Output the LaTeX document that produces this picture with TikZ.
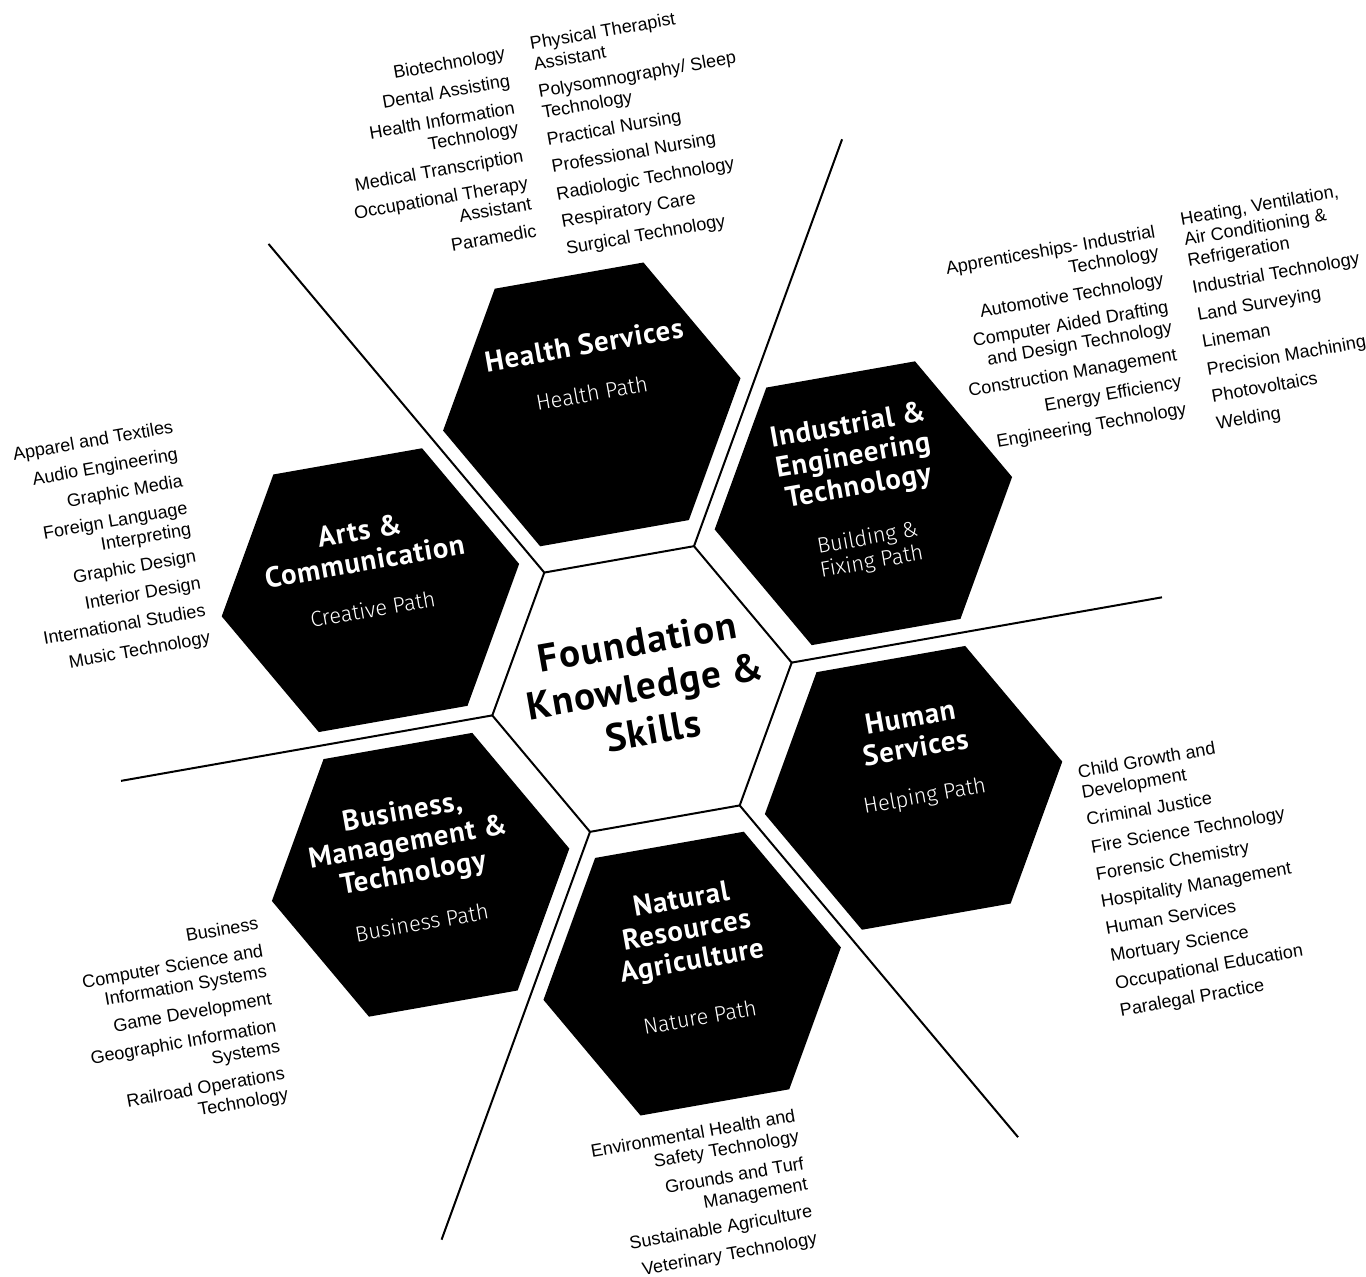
\documentclass[tikz,border=0pt]{standalone}
\usepackage{fontspec}
\setmainfont{Liberation Sans}
\newfontfamily\headfont{PT Sans}[LetterSpace=3]
\newfontfamily\trackfont{Fira Sans Light}
\usetikzlibrary{shapes.geometric,calc}
% extra space between two programmes of one list
\newcommand{\itemgap}{\\[3.3pt]}

\begin{document}
\begin{tikzpicture}[
			x=0.5pt,y=0.5pt,
			hexa/.style={
				regular polygon,
				regular polygon sides=6,
				minimum size=151pt,
				inner sep=0pt,
				outer sep=0pt,
				fill=black
			},
			core/.style={
				regular polygon,
				regular polygon sides=6,
				minimum size=152pt,
				inner sep=0pt,
				outer sep=0pt,
				draw=black,
				line width=1pt,
				fill=white
			},
			title/.style={
				text=white,
				align=center,
				font=\headfont\bfseries\fontsize{14.4}{15.5}\selectfont
			},
			track/.style={
				text=white,
				align=center,
				font=\trackfont\fontsize{10.9}{12}\selectfont
			},
			list/.style={
				inner sep=0pt,
				font=\fontsize{9}{10.5}\selectfont
			},
			divider/.style={line width=1pt}
			]
			\useasboundingbox (-642,-587) rectangle (724,689);
			\begin{scope}[rotate=10,transform shape]
			% centre and the six pathways
			\node[core](core) at (0,0) {};
			\node[hexa](health) at (90:289) {};
			\node[hexa](industry) at (30:289) {};
			\node[hexa](human) at (-30:289) {};
			\node[hexa](nature) at (-90:289) {};
			\node[hexa](business) at (-150:289) {};
			\node[hexa](arts) at (150:289) {};
			\foreach \a/\len in {0/528,60/585,120/581,180/529,240/586,300/585}
				\draw[divider](core.\a)--(\a:\len);
			\node[font=\headfont\bfseries\fontsize{19.5}{22.5}\selectfont,align=center](found) at (3.5,2.4) {Foundation\\Knowledge \&\\Skills};
			% titles
			\node[title](healthT) at ($(health)+(2.6,60)$) {Health Services};
			\node[track](healthP) at ($(health)+(2,11)$) {Health Path};
			\node[title](industryT) at ($(industry)+(-2,47)$) {Industrial \&\\Engineering\\Technology};
			\node[track](industryP) at ($(industry)+(-2,-48)$) {Building \&\\Fixing Path};
			\node[title](artsT) at ($(arts)+(-0.6,45)$) {Arts \&\\Communication};
			\node[track](artsP) at ($(arts)+(-1,-19)$) {Creative Path};
			\node[title](humanT) at ($(human)+(9,55)$) {Human\\Services};
			\node[track](humanP) at ($(human)+(9.5,-11)$) {Helping Path};
			\node[title](businessT) at ($(business)+(-7,32.5)$) {Business,\\Management \&\\Technology};
			\node[track](businessP) at ($(business)+(-7,-47)$) {Business Path};
			\node[title](natureT) at ($(nature)+(2,42)$) {Natural\\Resources\\Agriculture};
			\node[track](natureP) at ($(nature)+(0,-44)$) {Nature Path};
			% programme lists
			\node[list,align=right,anchor=north east](healthL) at (-24.3,657.2) {Biotechnology\itemgap Dental Assisting\itemgap Health Information\\Technology\itemgap Medical Transcription\itemgap Occupational Therapy\\Assistant\itemgap Paramedic};
			\node[list,align=left,anchor=north west](healthR) at (1.5,662) {Physical Therapist\\Assistant\itemgap Polysomnography/ Sleep\\Technology\itemgap Practical Nursing\itemgap Professional Nursing\itemgap Radiologic Technology\itemgap Respiratory Care\itemgap Surgical Technology};
			\node[list,align=right,anchor=north east](industryL) at (584.9,369) {Apprenticeships- Industrial\\Technology\itemgap Automotive Technology\itemgap Computer Aided Drafting\\and Design Technology\itemgap Construction Management\itemgap Energy Efficiency\itemgap Engineering Technology};
			\node[list,align=left,anchor=north west](industryR) at (611.6,376.6) {Heating, Ventilation,\\Air Conditioning \&\\Refrigeration\itemgap Industrial Technology\itemgap Land Surveying\itemgap Lineman\itemgap Precision Machining\itemgap Photovoltaics\itemgap Welding};
			\node[list,align=right,anchor=north east](artsL) at (-416.1,347.4) {Apparel and Textiles\itemgap Audio Engineering\itemgap Graphic Media\itemgap Foreign Language\\Interpreting\itemgap Graphic Design\itemgap Interior Design\itemgap International Studies\itemgap Music Technology};
			\node[list,align=left,anchor=north west](humanL) at (414.7,-150.2) {Child Growth and\\Development\itemgap Criminal Justice\itemgap Fire Science Technology\itemgap Forensic Chemistry\itemgap Hospitality Management\itemgap Human Services\itemgap Mortuary Science\itemgap Occupational Education\itemgap Paralegal Practice};
			\node[list,align=right,anchor=north east](businessL) at (-418.5,-156.7) {Business\itemgap Computer Science and\\Information Systems\itemgap Game Development\itemgap Geographic Information\\Systems\itemgap Railroad Operations\\Technology};
			\node[list,align=right,anchor=north east](natureL) at (77.1,-439.2) {Environmental Health and\\Safety Technology\itemgap Grounds and Turf\\Management\itemgap Sustainable Agriculture\itemgap Veterinary Technology};
			\end{scope}
		\end{tikzpicture}
\end{document}
